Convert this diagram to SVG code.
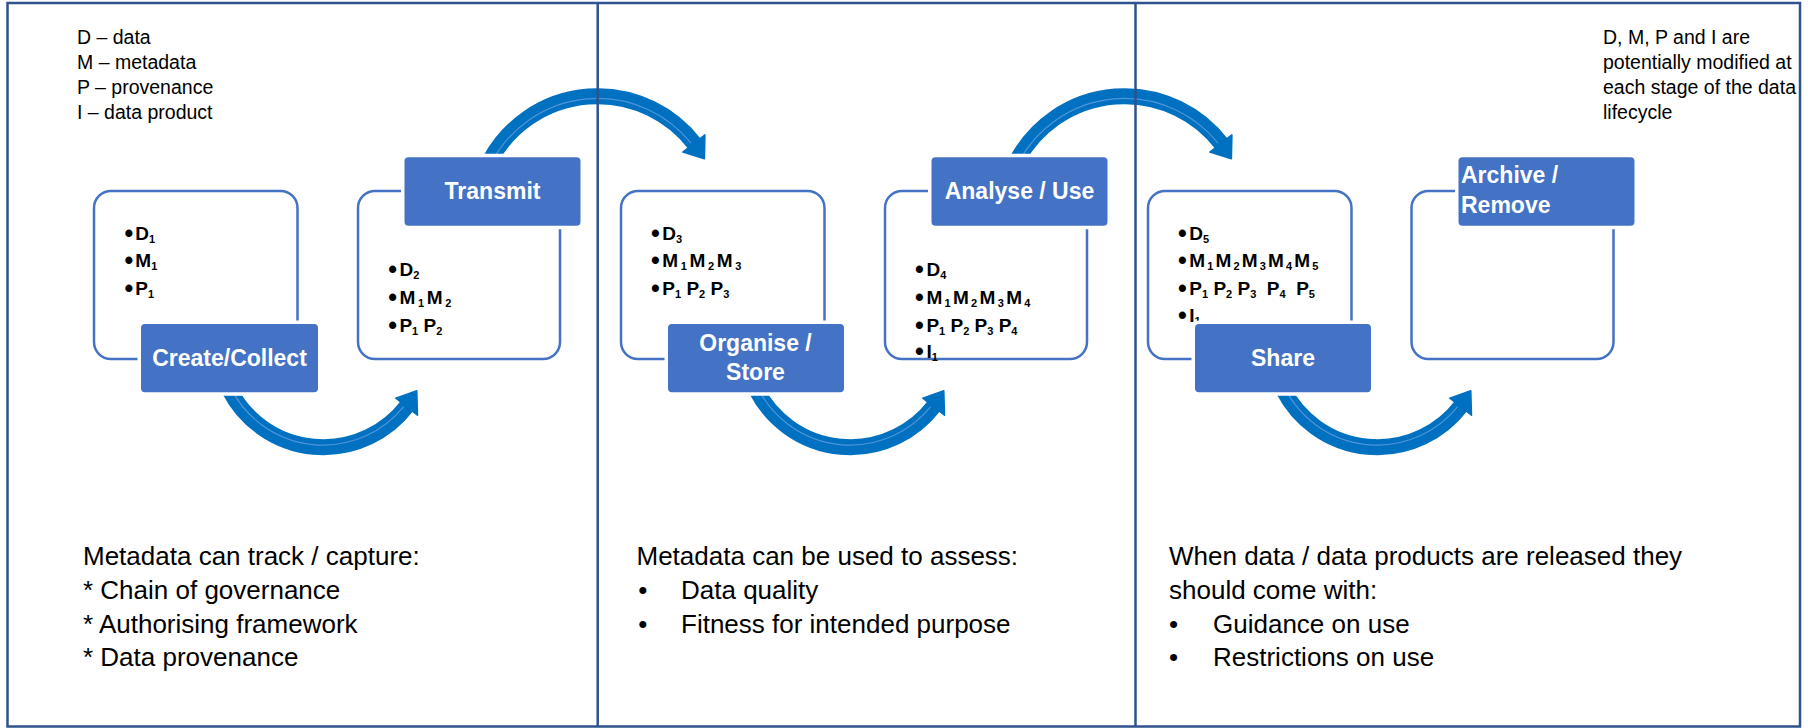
<svg xmlns="http://www.w3.org/2000/svg" width="1808" height="728" viewBox="0 0 1808 728">
<style>
.frame{fill:none;stroke:#2F528F;stroke-width:2.5}
.outline{fill:#fff;stroke:#4472C4;stroke-width:2.5}
.box{fill:#4472C4;stroke:#fff;stroke-width:7;paint-order:stroke}
.label{font-family:"Liberation Sans",Arial,sans-serif;font-weight:bold;font-size:23px;fill:#fff}
.item{font-family:"Liberation Sans",Arial,sans-serif;font-weight:bold;font-size:19px;fill:#000}
.sub{font-size:11px}
.bul{font-family:"Liberation Sans",Arial,sans-serif;font-weight:bold;font-size:25px;fill:#000;text-anchor:middle}
.band{fill:none;stroke:#0070C0;stroke-width:16}
.hl{fill:none;stroke:#4E95D9;stroke-width:1.2}
.head{fill:#0070C0;stroke:#0070C0;stroke-width:1.5;stroke-linejoin:round}
.note{font-family:"Liberation Sans",Arial,sans-serif;font-size:19.5px;fill:#000}
.body{font-family:"Liberation Sans",Arial,sans-serif;font-size:26px;fill:#000}
.mid{text-anchor:middle}
</style>
<rect width="1808" height="728" fill="#fff"/>

<g id="connectors">
  <path class="band" d="M 490.3 159.9 A 122.3 122.3 0 0 1 694.7 144.1"/>
  <path class="hl" d="M 492.3 161 A 120 120 0 0 1 691 143.1"/>
  <polygon class="head" points="704.9,134.9 704.4,158.7 682.8,152.1"/>

  <path class="band" d="M 1017.3 159.9 A 122.3 122.3 0 0 1 1221.7 144.1"/>
  <path class="hl" d="M 1019.3 161 A 120 120 0 0 1 1218 143.1"/>
  <polygon class="head" points="1231.9,134.9 1231.4,158.7 1209.8,152.1"/>

  <path class="band" d="M 229.5 390 A 105.6 105.6 0 0 0 407.1 405.9"/>
  <path class="hl" d="M 231.3 389.1 A 103.5 103.5 0 0 0 403.7 406.7"/>
  <polygon class="head" points="417.5,415.2 416.8,390.7 395.8,398.2"/>

  <path class="band" d="M 756.5 390 A 105.6 105.6 0 0 0 934.1 405.9"/>
  <path class="hl" d="M 758.3 389.1 A 103.5 103.5 0 0 0 930.7 406.7"/>
  <polygon class="head" points="944.5,415.2 943.8,390.7 922.8,398.2"/>

  <path class="band" d="M 1283.5 390 A 105.6 105.6 0 0 0 1461.1 405.9"/>
  <path class="hl" d="M 1285.3 389.1 A 103.5 103.5 0 0 0 1457.7 406.7"/>
  <polygon class="head" points="1471.5,415.2 1470.8,390.7 1449.8,398.2"/>
</g>

<g id="create-collect">
  <rect class="outline" x="94" y="191" width="203.5" height="168" rx="17"/>
  <text class="bul" x="128.8" y="241.5">•</text>
  <text class="bul" x="128.8" y="269.3">•</text>
  <text class="bul" x="128.8" y="297">•</text>
  <text class="item" x="135.3" y="239.5">D<tspan class="sub" dy="3">1</tspan></text>
  <text class="item" x="135.3" y="267.3">M<tspan class="sub" dy="3">1</tspan></text>
  <text class="item" x="135.3" y="295">P<tspan class="sub" dy="3">1</tspan></text>
  <rect class="box" x="141" y="324" width="177" height="68.3" rx="4"/>
  <text class="label mid" x="229.5" y="365.5">Create/Collect</text>
</g>

<g id="transmit">
  <rect class="outline" x="358" y="191" width="202" height="168" rx="17"/>
  <text class="bul" x="392.7" y="278">•</text>
  <text class="bul" x="392.7" y="305.8">•</text>
  <text class="bul" x="392.7" y="333.6">•</text>
  <text class="item" x="399.4" y="276">D<tspan class="sub" dy="3">2</tspan></text>
  <text class="item" x="399.4" y="303.8" textLength="52" lengthAdjust="spacing">M<tspan class="sub" dy="3">1</tspan><tspan dy="-3">M</tspan><tspan class="sub" dy="3">2</tspan></text>
  <text class="item" x="399.4" y="331.6">P<tspan class="sub" dy="3">1</tspan><tspan dy="-3"> P</tspan><tspan class="sub" dy="3">2</tspan></text>
  <rect class="box" x="404.5" y="157.3" width="176" height="68.4" rx="4"/>
  <text class="label mid" x="492.5" y="199">Transmit</text>
</g>

<g id="organise-store">
  <rect class="outline" x="621" y="191" width="203.5" height="168" rx="17"/>
  <text class="bul" x="655.5" y="241.5">•</text>
  <text class="bul" x="655.5" y="269.3">•</text>
  <text class="bul" x="655.5" y="297">•</text>
  <text class="item" x="662.3" y="239.5">D<tspan class="sub" dy="3">3</tspan></text>
  <text class="item" x="662.3" y="267.3" textLength="79" lengthAdjust="spacing">M<tspan class="sub" dy="3">1</tspan><tspan dy="-3">M</tspan><tspan class="sub" dy="3">2</tspan><tspan dy="-3">M</tspan><tspan class="sub" dy="3">3</tspan></text>
  <text class="item" x="662.3" y="295">P<tspan class="sub" dy="3">1</tspan><tspan dy="-3"> P</tspan><tspan class="sub" dy="3">2</tspan><tspan dy="-3"> P</tspan><tspan class="sub" dy="3">3</tspan></text>
  <rect class="box" x="668" y="324" width="176" height="68.3" rx="4"/>
  <text class="label mid" x="755.5" y="350.7">Organise /</text>
  <text class="label mid" x="755.5" y="380.2">Store</text>
</g>

<g id="analyse-use">
  <rect class="outline" x="885" y="191" width="202" height="168" rx="17"/>
  <text class="bul" x="919.5" y="278">•</text>
  <text class="bul" x="919.5" y="305.8">•</text>
  <text class="bul" x="919.5" y="333.6">•</text>
  <text class="bul" x="919.5" y="359.5">•</text>
  <text class="item" x="926.4" y="276">D<tspan class="sub" dy="3">4</tspan></text>
  <text class="item" x="926.4" y="303.8" textLength="104" lengthAdjust="spacing">M<tspan class="sub" dy="3">1</tspan><tspan dy="-3">M</tspan><tspan class="sub" dy="3">2</tspan><tspan dy="-3">M</tspan><tspan class="sub" dy="3">3</tspan><tspan dy="-3">M</tspan><tspan class="sub" dy="3">4</tspan></text>
  <text class="item" x="926.4" y="331.6">P<tspan class="sub" dy="3">1</tspan><tspan dy="-3"> P</tspan><tspan class="sub" dy="3">2</tspan><tspan dy="-3"> P</tspan><tspan class="sub" dy="3">3</tspan><tspan dy="-3"> P</tspan><tspan class="sub" dy="3">4</tspan></text>
  <text class="item" x="926.4" y="357.5">I<tspan class="sub" dy="3">1</tspan></text>
  <rect class="box" x="931.5" y="157.3" width="176" height="68.4" rx="4"/>
  <text class="label mid" x="1019.5" y="199">Analyse / Use</text>
</g>

<g id="share">
  <rect class="outline" x="1148" y="191" width="203.5" height="168" rx="17"/>
  <text class="bul" x="1182.5" y="241.5">•</text>
  <text class="bul" x="1182.5" y="269.3">•</text>
  <text class="bul" x="1182.5" y="297">•</text>
  <text class="bul" x="1182.5" y="323.5">•</text>
  <text class="item" x="1189.3" y="239.5">D<tspan class="sub" dy="3">5</tspan></text>
  <text class="item" x="1189.3" y="267.3" textLength="129" lengthAdjust="spacing">M<tspan class="sub" dy="3">1</tspan><tspan dy="-3">M</tspan><tspan class="sub" dy="3">2</tspan><tspan dy="-3">M</tspan><tspan class="sub" dy="3">3</tspan><tspan dy="-3">M</tspan><tspan class="sub" dy="3">4</tspan><tspan dy="-3">M</tspan><tspan class="sub" dy="3">5</tspan></text>
  <text class="item" x="1189.3" y="295" style="white-space:pre">P<tspan class="sub" dy="3">1</tspan><tspan dy="-3"> P</tspan><tspan class="sub" dy="3">2</tspan><tspan dy="-3"> P</tspan><tspan class="sub" dy="3">3</tspan><tspan dy="-3">  P</tspan><tspan class="sub" dy="3">4</tspan><tspan dy="-3">  P</tspan><tspan class="sub" dy="3">5</tspan></text>
  <text class="item" x="1189.3" y="321.5">I<tspan class="sub" dy="3">1</tspan></text>
  <rect class="box" x="1195" y="324" width="176" height="68.3" rx="4"/>
  <text class="label mid" x="1283" y="365.5">Share</text>
</g>

<g id="archive-remove">
  <rect class="outline" x="1411.5" y="191" width="202" height="168" rx="17"/>
  <rect class="box" x="1458.5" y="157.3" width="176" height="68.4" rx="4"/>
  <text class="label" x="1461" y="183.3">Archive /</text>
  <text class="label" x="1461" y="213.3">Remove</text>
</g>

<g id="frame">
  <rect class="frame" x="7.5" y="3" width="1792.5" height="723.5"/>
  <line class="frame" x1="597.7" y1="3" x2="597.7" y2="726.5"/>
  <line class="frame" x1="1135.5" y1="3" x2="1135.5" y2="726.5"/>
</g>

<g id="legend">
  <text class="note" x="77" y="44">D – data</text>
  <text class="note" x="77" y="69">M – metadata</text>
  <text class="note" x="77" y="94">P – provenance</text>
  <text class="note" x="77" y="119">I – data product</text>
</g>

<g id="note">
  <text class="note" x="1603" y="44">D, M, P and I are</text>
  <text class="note" x="1603" y="69">potentially modified at</text>
  <text class="note" x="1603" y="94">each stage of the data</text>
  <text class="note" x="1603" y="119">lifecycle</text>
</g>

<g id="text-col1">
  <text class="body" x="83" y="565">Metadata can track / capture:</text>
  <text class="body" x="83" y="599">* Chain of governance</text>
  <text class="body" x="83" y="632.5">* Authorising framework</text>
  <text class="body" x="83" y="666">* Data provenance</text>
</g>

<g id="text-col2">
  <text class="body" x="636.5" y="565">Metadata can be used to assess:</text>
  <text class="body mid" x="642.7" y="599">•</text>
  <text class="body" x="681" y="599">Data quality</text>
  <text class="body mid" x="642.7" y="632.5">•</text>
  <text class="body" x="681" y="632.5">Fitness for intended purpose</text>
</g>

<g id="text-col3">
  <text class="body" x="1169" y="565">When data / data products are released they</text>
  <text class="body" x="1169" y="599">should come with:</text>
  <text class="body mid" x="1173.6" y="632.5">•</text>
  <text class="body" x="1213" y="632.5">Guidance on use</text>
  <text class="body mid" x="1173.6" y="666">•</text>
  <text class="body" x="1213" y="666">Restrictions on use</text>
</g>
</svg>
